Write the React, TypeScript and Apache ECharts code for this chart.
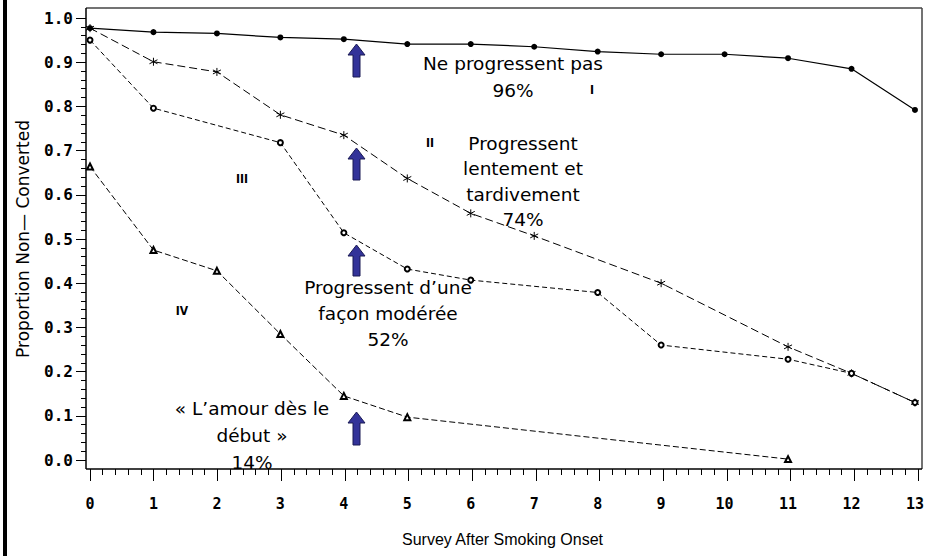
import React, { useEffect, useRef } from "react";
import * as echarts from "echarts";

const surveys = [0, 1, 2, 3, 4, 5, 6, 7, 8, 9, 10, 11, 12, 13];
const seriesI = [0.977, 0.968, 0.965, 0.956, 0.952, 0.941, 0.941, 0.935, 0.924, 0.918, 0.918, 0.909, 0.885, 0.792];
const seriesII = [0.977, 0.901, 0.878, 0.781, 0.735, 0.637, 0.558, 0.507, null, 0.4, null, 0.256, 0.196, 0.13];
const seriesIII = [0.95, 0.796, null, 0.718, 0.514, 0.432, 0.407, null, 0.379, 0.26, null, 0.228, 0.196, 0.13];
const seriesIV = [0.664, 0.475, 0.428, 0.285, 0.145, 0.097, null, null, null, null, null, 0.002, null, null];

const xAxisTitle = "Survey After Smoking Onset";
const yAxisTitle = "Proportion Non\u2014 Converted";

const annotations = [
  { lines: ["Ne progressent pas", "96%"], x: 513, y: 63, lh: 27 },
  { lines: ["Progressent", "lentement et", "tardivement", "74%"], x: 523, y: 143, lh: 25.5 },
  { lines: ["Progressent d\u2019une", "fa\u00e7on mod\u00e9r\u00e9e", "52%"], x: 388, y: 287, lh: 26 },
  { lines: ["\u00ab L\u2019amour d\u00e8s le", "d\u00e9but \u00bb", "14%"], x: 252, y: 408, lh: 27 },
];
const romanLabels = [
  { text: "I", x: 592, y: 90 },
  { text: "II", x: 430, y: 143 },
  { text: "III", x: 242, y: 179 },
  { text: "IV", x: 182, y: 311 },
];
const arrows = [
  { x: 356.5, top: 44, bottom: 77 },
  { x: 356.5, top: 148, bottom: 180 },
  { x: 356.5, top: 245, bottom: 276 },
  { x: 356.5, top: 412, bottom: 445 },
];

const toPairs = (vals: (number | null)[]) => surveys.map((s, i) => [s, vals[i]]);
const asterisk = "path://M0,-5L0,5M-4.33,-2.5L4.33,2.5M-4.33,2.5L4.33,-2.5";

const tickLine = { color: "#000", width: 1 };

export default function App() {
  const ref = useRef<HTMLDivElement>(null);
  useEffect(() => {
    if (!ref.current) return;
    const chart = echarts.init(ref.current, null, { renderer: "svg" });

    const graphics: any[] = [];
    graphics.push({ type: "rect", shape: { x: 3, y: 0, width: 4, height: 556 }, style: { fill: "#000" }, z: 10 });
    graphics.push({ type: "line", shape: { x1: 86, y1: 8, x2: 922, y2: 8 }, style: { stroke: "#444", lineWidth: 1.5 }, z: 10 });
    graphics.push({ type: "line", shape: { x1: 922, y1: 8, x2: 922, y2: 469 }, style: { stroke: "#444", lineWidth: 1.5 }, z: 10 });
    graphics.push({ type: "line", shape: { x1: 86, y1: 8, x2: 86, y2: 469 }, style: { stroke: "#000", lineWidth: 1.5 }, z: 10 });
    graphics.push({ type: "line", shape: { x1: 86, y1: 469, x2: 922, y2: 469 }, style: { stroke: "#000", lineWidth: 1.5 }, z: 10 });
    annotations.forEach((a) => {
      a.lines.forEach((t, i) => {
        graphics.push({
          type: "text",
          x: a.x,
          y: a.y + i * a.lh,
          z: 20,
          style: {
            text: t,
            fill: "#000",
            fontSize: 18.5,
            fontFamily: "DejaVu Sans",
            textAlign: "center",
            textVerticalAlign: "middle",
          },
        });
      });
    });
    romanLabels.forEach((r) => {
      graphics.push({
        type: "text",
        x: r.x,
        y: r.y,
        z: 20,
        style: {
          text: r.text,
          fill: "#000",
          fontSize: 12,
          fontWeight: "bold",
          fontFamily: "DejaVu Sans Condensed, DejaVu Sans",
          textAlign: "center",
          textVerticalAlign: "middle",
        },
      });
    });
    arrows.forEach((a) => {
      const hw = 8.5, sw = 3.5, hh = 11;
      graphics.push({
        type: "polygon",
        z: 20,
        shape: {
          points: [
            [a.x, a.top],
            [a.x + hw, a.top + hh],
            [a.x + sw, a.top + hh],
            [a.x + sw, a.bottom],
            [a.x - sw, a.bottom],
            [a.x - sw, a.top + hh],
            [a.x - hw, a.top + hh],
          ],
        },
        style: { fill: "#333399", stroke: "#1a1a55", lineWidth: 1 },
      });
    });

    const quietX = (gridIndex: number, extra: any) => ({
      type: "value",
      gridIndex,
      min: 0,
      max: 13,
      interval: 1,
      axisLine: { show: false },
      axisTick: { show: false },
      axisLabel: { show: false },
      splitLine: { show: false },
      ...extra,
    });
    const quietY = (gridIndex: number, extra: any) => ({
      type: "value",
      gridIndex,
      min: 0,
      max: 1,
      interval: 0.1,
      axisLine: { show: false },
      axisTick: { show: false },
      axisLabel: { show: false },
      splitLine: { show: false },
      ...extra,
    });

    chart.setOption({
      animation: false,
      backgroundColor: "#fff",
      grid: [
        { left: 90, right: 9, top: 18, bottom: 96, show: false },
        { left: 90, right: 9, top: 469, height: 12, show: false },
        { left: 90, right: 9, top: 469, height: 6, show: false },
        { left: 76, width: 10, top: 18, bottom: 96, show: false },
        { left: 81, width: 5, top: 18, bottom: 96, show: false },
      ],
      xAxis: [
        {
          type: "value",
          gridIndex: 0,
          min: 0,
          max: 13,
          interval: 1,
          offset: 9,
          axisLine: { show: false, onZero: false },
          axisTick: { show: false },
          splitLine: { show: false },
          axisLabel: { margin: 27, color: "#000", fontSize: 15, fontWeight: "bold", fontFamily: "DejaVu Sans Mono" },
          name: xAxisTitle,
          nameLocation: "middle",
          nameGap: 62,
          nameTextStyle: { color: "#000", fontSize: 16, fontFamily: "Liberation Sans" },
        },
        quietX(1, { splitLine: { show: true, lineStyle: tickLine } }),
        quietX(2, { minorTick: { show: false, splitNumber: 5 }, minorSplitLine: { show: true, lineStyle: tickLine } }),
        quietX(3, {}),
        quietX(4, {}),
      ],
      yAxis: [
        {
          type: "value",
          gridIndex: 0,
          min: 0,
          max: 1,
          interval: 0.1,
          offset: 4,
          axisLine: { show: false, onZero: false },
          axisTick: { show: false },
          splitLine: { show: false },
          axisLabel: {
            margin: 13,
            color: "#000",
            fontSize: 16,
            fontWeight: "bold",
            fontFamily: "DejaVu Sans Mono",
            formatter: (v: number) => v.toFixed(1),
          },
          name: yAxisTitle,
          nameLocation: "middle",
          nameGap: 55,
          nameTextStyle: { color: "#000", fontSize: 17, fontFamily: "DejaVu Sans" },
        },
        quietY(1, {}),
        quietY(2, {}),
        quietY(3, { splitLine: { show: true, lineStyle: tickLine } }),
        quietY(4, { minorTick: { show: false, splitNumber: 5 }, minorSplitLine: { show: true, lineStyle: tickLine } }),
      ],
      series: [
        {
          name: "I",
          type: "line",
          xAxisIndex: 0,
          yAxisIndex: 0,
          data: toPairs(seriesI),
          symbol: "circle",
          symbolSize: 6,
          lineStyle: { color: "#000", width: 1.2, type: "solid" },
          itemStyle: { color: "#000" },
        },
        {
          name: "II",
          type: "line",
          xAxisIndex: 0,
          yAxisIndex: 0,
          data: toPairs(seriesII),
          connectNulls: true,
          symbol: asterisk,
          symbolSize: 8,
          lineStyle: { color: "#000", width: 1, type: [8, 4] },
          itemStyle: { color: "#000", borderColor: "#000", borderWidth: 1 },
        },
        {
          name: "III",
          type: "line",
          xAxisIndex: 0,
          yAxisIndex: 0,
          data: toPairs(seriesIII),
          connectNulls: true,
          symbol: "emptyCircle",
          symbolSize: 5,
          lineStyle: { color: "#000", width: 1, type: [5, 3] },
          itemStyle: { color: "#000", borderColor: "#000", borderWidth: 1 },
        },
        {
          name: "IV",
          type: "line",
          xAxisIndex: 0,
          yAxisIndex: 0,
          data: toPairs(seriesIV),
          connectNulls: true,
          symbol: "emptyTriangle",
          symbolSize: 6,
          lineStyle: { color: "#000", width: 1, type: [6, 3] },
          itemStyle: { color: "#000", borderColor: "#000", borderWidth: 1 },
        },
      ],
      graphic: graphics,
    });
    return () => chart.dispose();
  }, []);
  return (
    <div
      ref={ref}
      style={{ position: "fixed", left: 0, top: 0, width: 927, height: 556, background: "#fff" }}
    />
  );
}
